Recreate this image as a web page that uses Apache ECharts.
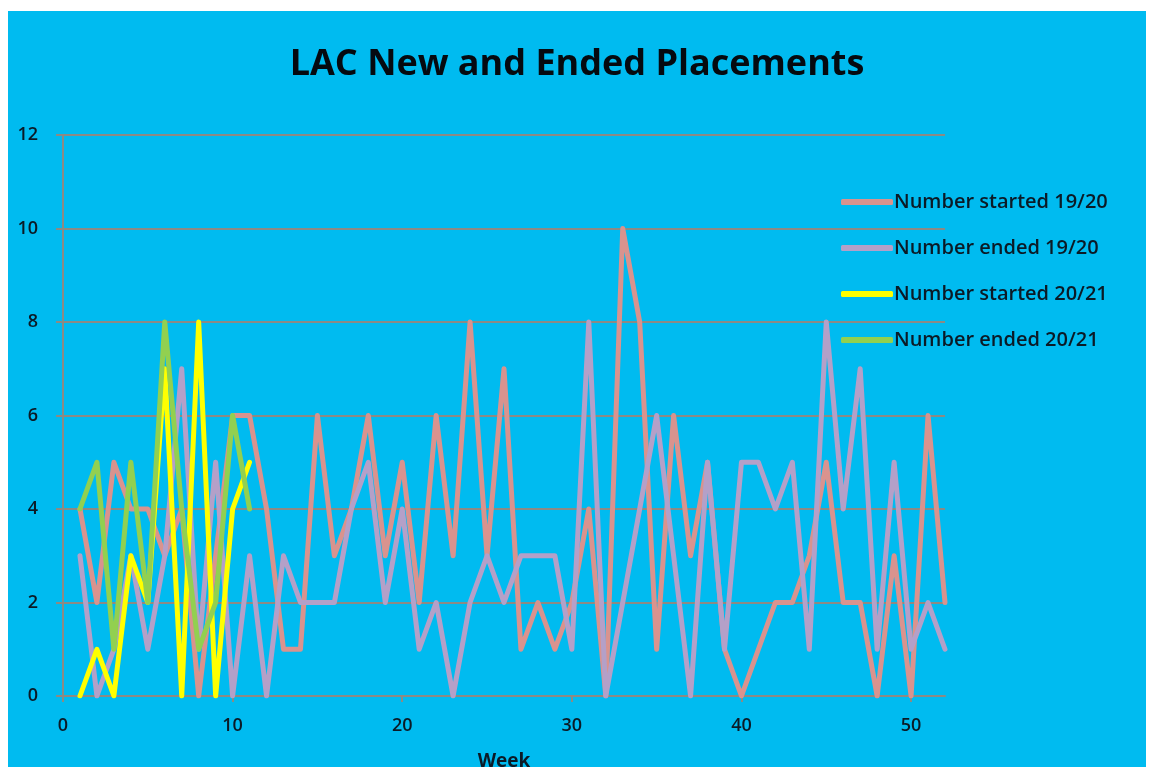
<!DOCTYPE html>
<html>
<head>
<meta charset="utf-8">
<title>LAC New and Ended Placements</title>
<script src="https://cdn.jsdelivr.net/npm/echarts@6/dist/echarts.min.js"></script>
<style>
  html, body { margin: 0; padding: 0; background: #ffffff; }
  #chart { position: absolute; left: 8px; top: 11px; width: 1138px; height: 756px; }
</style>
</head>
<body>
<div id="chart"></div>
<script>
// Week numbers for each season
const weeks1920 = [1, 2, 3, 4, 5, 6, 7, 8, 9, 10, 11, 12, 13, 14, 15, 16, 17, 18, 19, 20,
  21, 22, 23, 24, 25, 26, 27, 28, 29, 30, 31, 32, 33, 34, 35, 36, 37, 38, 39, 40,
  41, 42, 43, 44, 45, 46, 47, 48, 49, 50, 51, 52];
const weeks2021 = [1, 2, 3, 4, 5, 6, 7, 8, 9, 10, 11];

// Weekly placement counts
const started1920 = [4, 2, 5, 4, 4, 3, 4, 0, 3, 6, 6, 4, 1, 1, 6, 3, 4, 6, 3, 5,
  2, 6, 3, 8, 3, 7, 1, 2, 1, 2, 4, 0, 10, 8, 1, 6, 3, 5, 1, 0,
  1, 2, 2, 3, 5, 2, 2, 0, 3, 0, 6, 2];
const ended1920 = [3, 0, 1, 3, 1, 3, 7, 1, 5, 0, 3, 0, 3, 2, 2, 2, 4, 5, 2, 4,
  1, 2, 0, 2, 3, 2, 3, 3, 3, 1, 8, 0, 2, 4, 6, 3, 0, 5, 1, 5,
  5, 4, 5, 1, 8, 4, 7, 1, 5, 1, 2, 1];
const started2021 = [0, 1, 0, 3, 2, 7, 0, 8, 0, 4, 5];
const ended2021 = [4, 5, 1, 5, 2, 8, 4, 1, 2, 6, 4];

const seriesNames = ['Number started 19/20', 'Number ended 19/20', 'Number started 20/21', 'Number ended 20/21'];
const xTicks = [0, 10, 20, 30, 40, 50];

const pair = (xs, ys) => ys.map((v, i) => [xs[i], v]);

const colors = ['#d9938e', '#b4a0c8', '#ffff00', '#92d050'];
const textColor = '#0b1a26';
const gridColor = '#8c8a84';
const font = "'Open Sans', 'Noto Sans', sans-serif";

const chart = echarts.init(document.getElementById('chart'), null, { renderer: 'canvas' });

function lineSeries(name, data, color) {
  return {
    name: name,
    type: 'line',
    data: data,
    symbol: 'none',
    showSymbol: false,
    lineStyle: { color: color, width: 5, join: 'round', cap: 'round' },
    itemStyle: { color: color },
    animation: false
  };
}

chart.setOption({
  backgroundColor: '#00bbf0',
  animation: false,
  color: colors,
  title: {
    text: 'LAC New and Ended Placements',
    left: 'center',
    top: 31,
    textStyle: { fontFamily: font, fontWeight: 'bold', fontSize: 36, color: '#050a10' }
  },
  legend: {
    orient: 'vertical',
    left: 828,
    top: 176,
    itemWidth: 52,
    itemHeight: 6,
    itemGap: 26,
    icon: 'roundRect',
    textStyle: { fontFamily: font, fontSize: 20, fontWeight: 600, color: textColor, padding: [0, 0, 0, -4] },
    data: seriesNames
  },
  grid: { left: 55, top: 124, width: 882, height: 561, containLabel: false, outerBoundsMode: 'none' },
  xAxis: {
    type: 'value',
    min: 0,
    max: 52,
    interval: 10,
    name: 'Week',
    nameLocation: 'middle',
    nameGap: 56,
    nameTextStyle: { fontFamily: font, fontWeight: 'bold', fontSize: 19, color: textColor },
    axisLine: { show: true, lineStyle: { color: gridColor, width: 2 } },
    axisTick: { show: true, length: 6, customValues: xTicks, lineStyle: { color: gridColor, width: 2 } },
    axisLabel: { customValues: xTicks, margin: 21, fontFamily: font, fontWeight: 600, fontSize: 18, color: textColor },
    splitLine: { show: false }
  },
  yAxis: {
    type: 'value',
    min: 0,
    max: 12,
    interval: 2,
    axisLine: { show: true, lineStyle: { color: gridColor, width: 2 } },
    axisTick: { show: true, length: 7, lineStyle: { color: gridColor, width: 2 } },
    axisLabel: { margin: 25, fontFamily: font, fontWeight: 600, fontSize: 18, color: textColor },
    splitLine: { show: true, lineStyle: { color: gridColor, width: 2 } }
  },
  series: [
    lineSeries(seriesNames[0], pair(weeks1920, started1920), colors[0]),
    lineSeries(seriesNames[1], pair(weeks1920, ended1920), colors[1]),
    lineSeries(seriesNames[2], pair(weeks2021, started2021), colors[2]),
    lineSeries(seriesNames[3], pair(weeks2021, ended2021), colors[3])
  ]
});
</script>
</body>
</html>
